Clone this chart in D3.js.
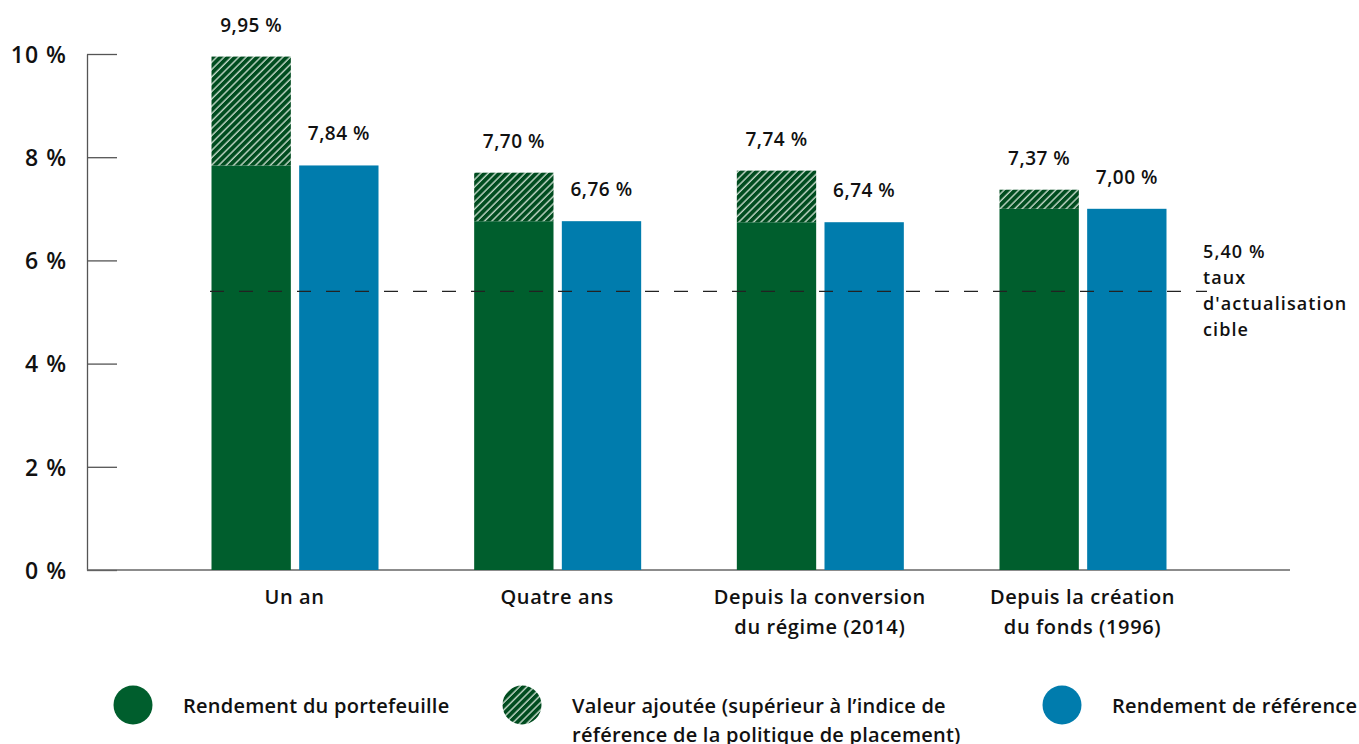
<!DOCTYPE html>
<html>
<head>
<meta charset="utf-8">
<script src="https://cdn.jsdelivr.net/npm/d3@7"></script>
<style>
  body { margin: 0; background: #fff; }
  svg text { font-family: "Open Sans", Lato, sans-serif; font-weight: 600; fill: #111; }
</style>
</head>
<body>
<div class="canvas"></div>
<script>
const categories = [["Un an"], ["Quatre ans"], ["Depuis la conversion", "du régime (2014)"], ["Depuis la création", "du fonds (1996)"]];
const portfolio = [9.95, 7.70, 7.74, 7.37];
const benchmark = [7.84, 6.76, 6.74, 7.00];
const yTicks = [0, 2, 4, 6, 8, 10];
const target = 5.40;
const targetLabel = ["5,40 %", "taux", "d'actualisation", "cible"];
const legendItems = [
  { key: "port", lines: ["Rendement du portefeuille"] },
  { key: "added", lines: ["Valeur ajoutée (supérieur à l’indice de", "référence de la politique de placement)"] },
  { key: "bench", lines: ["Rendement de référence"] }
];

const fmt = v => v.toFixed(2).replace(".", ",") + " %";
const green = "#005e2d", hatchBg = "#004c1f", blue = "#007cad";

const svg = d3.select(".canvas").append("svg").attr("width", 1359).attr("height", 744);

// hatch pattern
const defs = svg.append("defs");
const pat = defs.append("pattern")
  .attr("id", "hatch")
  .attr("patternUnits", "userSpaceOnUse")
  .attr("width", 5.2).attr("height", 5.2)
  .attr("patternTransform", "rotate(45)");
pat.append("rect").attr("width", 5.2).attr("height", 5.2).attr("fill", hatchBg);
pat.append("line").attr("x1", 1).attr("x2", 1).attr("y1", 0).attr("y2", 5.2)
  .attr("stroke", "#d4e3d6").attr("stroke-width", 1.3);

const x0 = 87, x1 = 1290, yTop = 54, yBot = 570;
const y = d3.scaleLinear().domain([0, 10]).range([yBot, yTop]);
const xBand = d3.scaleBand().domain(d3.range(categories.length)).range([x0, x1]).paddingInner(0).paddingOuter(0.29);
const xSub = d3.scaleBand().domain(["p", "b"]).range([-83, 84]).paddingInner(0.095);

// y axis
const yAxisGroup = svg.append("g").attr("transform", `translate(${x0},0)`);
yAxisGroup.call(d3.axisLeft(y).tickValues(yTicks).tickSize(-30).tickSizeOuter(0).tickPadding(20).tickFormat(d => d + " %"));
yAxisGroup.select(".domain").attr("stroke", "#555").attr("stroke-width", 1.3);
yAxisGroup.selectAll(".tick line").attr("stroke", "#555").attr("stroke-width", 1.3);
yAxisGroup.selectAll(".tick text").style("font-size", "23px").style("letter-spacing", "1px")
  .attr("fill", "#111").attr("dy", "0.36em");

// baseline
svg.append("line").attr("x1", x0).attr("x2", x1).attr("y1", yBot).attr("y2", yBot)
  .attr("stroke", "#666").attr("stroke-width", 1.3);

const groups = svg.selectAll(".grp").data(categories).enter().append("g")
  .attr("transform", (d, i) => `translate(${xBand(i) + xBand.bandwidth() / 2},0)`);

// benchmark part of green bar
groups.append("rect")
  .attr("x", xSub("p")).attr("width", xSub.bandwidth())
  .attr("y", (d, i) => y(benchmark[i])).attr("height", (d, i) => yBot - y(benchmark[i]))
  .attr("fill", green);
// value added hatch
groups.append("rect")
  .attr("x", xSub("p")).attr("width", xSub.bandwidth())
  .attr("y", (d, i) => y(portfolio[i])).attr("height", (d, i) => y(benchmark[i]) - y(portfolio[i]))
  .attr("fill", "url(#hatch)");
// blue bar
groups.append("rect")
  .attr("x", xSub("b")).attr("width", xSub.bandwidth())
  .attr("y", (d, i) => y(benchmark[i])).attr("height", (d, i) => yBot - y(benchmark[i]))
  .attr("fill", blue);

// value labels
groups.append("text")
  .attr("x", xSub("p") + xSub.bandwidth() / 2).attr("y", (d, i) => y(portfolio[i]) - 25)
  .attr("text-anchor", "middle").style("font-size", "19px").style("letter-spacing", "0.5px")
  .text((d, i) => fmt(portfolio[i]));
groups.append("text")
  .attr("x", xSub("b") + xSub.bandwidth() / 2).attr("y", (d, i) => y(benchmark[i]) - 25)
  .attr("text-anchor", "middle").style("font-size", "19px").style("letter-spacing", "0.5px")
  .text((d, i) => fmt(benchmark[i]));

// category labels
groups.append("text")
  .attr("text-anchor", "middle").style("font-size", "20px").style("letter-spacing", "0.6px")
  .selectAll("tspan").data(d => d).enter().append("tspan")
  .attr("x", 0).attr("y", (d, j) => 604 + j * 30).text(d => d);

// target dashed line
svg.append("line")
  .attr("x1", 210).attr("x2", 1207).attr("y1", y(target)).attr("y2", y(target))
  .attr("stroke", "#222").attr("stroke-width", 1.2).attr("stroke-dasharray", "14 15");
svg.append("text").style("font-size", "18px").style("letter-spacing", "1.1px")
  .selectAll("tspan").data(targetLabel).enter().append("tspan")
  .attr("x", 1203).attr("y", (d, j) => 258 + j * 26).text(d => d);

// legend
const legendX = [133, 522, 1062];
const lg = svg.selectAll(".lg").data(legendItems).enter().append("g")
  .attr("transform", (d, i) => `translate(${legendX[i]},705)`);
lg.append("circle").attr("r", 19.5)
  .attr("fill", d => d.key === "port" ? green : d.key === "bench" ? blue : "url(#hatch)");
lg.append("text").style("font-size", "20px").style("letter-spacing", "0.25px")
  .selectAll("tspan").data(d => d.lines).enter().append("tspan")
  .attr("x", 50).attr("y", (d, j) => 8 + j * 29).text(d => d);
</script>
</body>
</html>
